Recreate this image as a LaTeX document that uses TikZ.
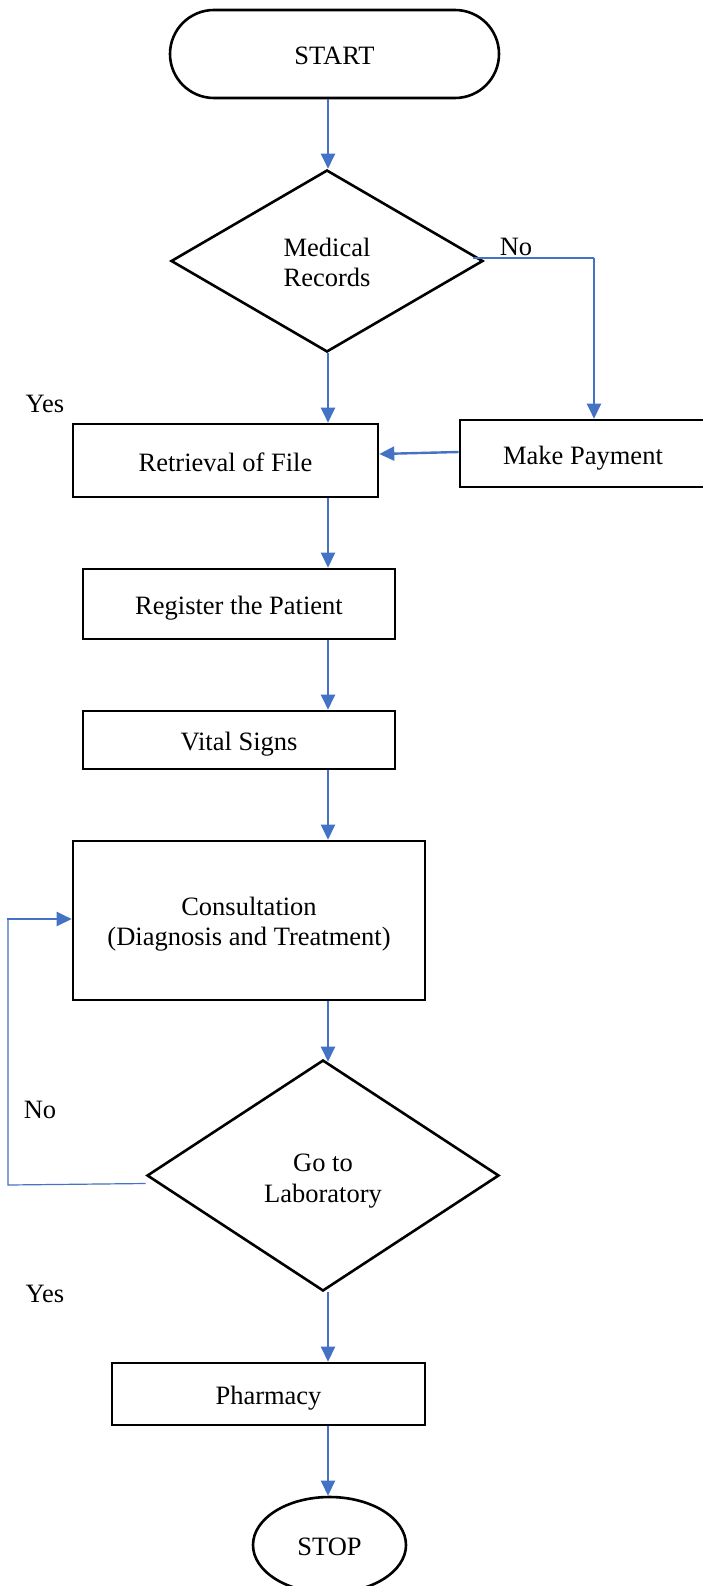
\documentclass[tikz,border=0pt]{standalone}
\usepackage{fontspec}
\setmainfont{Liberation Serif}
\usetikzlibrary{shapes.geometric,arrows.meta}
\definecolor{arrblue}{RGB}{68,114,196}
\newcommand{\twolines}[3]{\raisebox{#1}[0pt][0pt]{\begin{tabular}{@{}c@{}}#2\\#3\end{tabular}}}
\begin{document}
\begin{tikzpicture}[x=1pt,y=-1pt,
  every node/.style={font=\fontsize{26.5}{30.5}\selectfont, inner sep=0pt, align=center},
  oneline/.style={text height=21pt, text depth=0pt},
  box/.style={draw=black, line width=2.6pt, rectangle},
  dia/.style={draw=black, line width=2.6pt, diamond, aspect=1.7},
  arr/.style={draw=arrblue, line width=2.4pt, -{Triangle[length=15pt,width=14pt]}},
  thinline/.style={draw=arrblue, line width=1.2pt}]
\useasboundingbox (0,0) rectangle (702,1586);
\node[box, oneline, rounded corners=44pt, minimum width=329pt, minimum height=88pt] (start) at (334.5,54) {START};
\node[dia, minimum width=312pt, minimum height=182pt] (mr) at (327,261) {\twolines{-10.75pt}{Medical}{Records}};
\node[box, oneline, minimum width=305pt, minimum height=73pt] (ret) at (225.5,460.5) {Retrieval of File};
\node[box, oneline, minimum width=246pt, minimum height=67pt] (pay) at (583,453.5) {Make Payment};
\node[box, oneline, minimum width=312pt, minimum height=70pt] (reg) at (239,604) {Register the Patient};
\node[box, oneline, minimum width=312pt, minimum height=58pt] (vit) at (239,740) {Vital Signs};
\node[box, minimum width=352pt, minimum height=159pt] (cons) at (249,920.5) {\twolines{-10.25pt}{Consultation}{(Diagnosis and Treatment)}};
\node[dia, minimum width=352pt, minimum height=231pt] (lab) at (323,1175.5) {\twolines{-11.5pt}{Go to}{Laboratory}};
\node[box, oneline, minimum width=313pt, minimum height=62pt] (ph) at (268.5,1394) {Pharmacy};
\node[draw=black, line width=2.6pt, ellipse, oneline, minimum width=153pt, minimum height=96pt] (stop) at (329.5,1545) {STOP};

\node (no1) at (516,247) {No};
\node (yes1) at (45,404) {Yes};
\node (no2) at (40,1110) {No};
\node (yes2) at (45,1294) {Yes};

\coordinate (ax) at (328,0);
\coordinate (c1) at (594,258);
\coordinate (c2) at (8,1185);
\coordinate (c3) at (8,919);

\draw[arr] (ax|-start.south) -- (ax|-mr.north);
\draw[thinline] ([xshift=-11pt,yshift=3pt]mr.east) -- (c1);
\draw[arr] (c1) -- (c1|-pay.north);
\draw[arr] ([yshift=1.5pt]pay.west) -- ([yshift=6.5pt]ret.east);
\draw[arr] (ax|-mr.south) -- (ax|-ret.north);
\draw[arr] (ax|-ret.south) -- (ax|-reg.north);
\draw[arr] (ax|-reg.south) -- (ax|-vit.north);
\draw[arr] (ax|-vit.south) -- (ax|-cons.north);
\draw[arr] (ax|-cons.south) -- ([yshift=-3pt]ax|-lab.north);
\draw[arr] (ax|-lab.south) -- (ax|-ph.north);
\draw[arr] (ax|-ph.south) -- (ax|-stop.north);
\draw[thinline] ([yshift=-8pt]lab.west) -- (c2) -- (c3);
\draw[arr] ([xshift=-0.6pt]c3) -- (c3-|cons.west);
\end{tikzpicture}
\end{document}
